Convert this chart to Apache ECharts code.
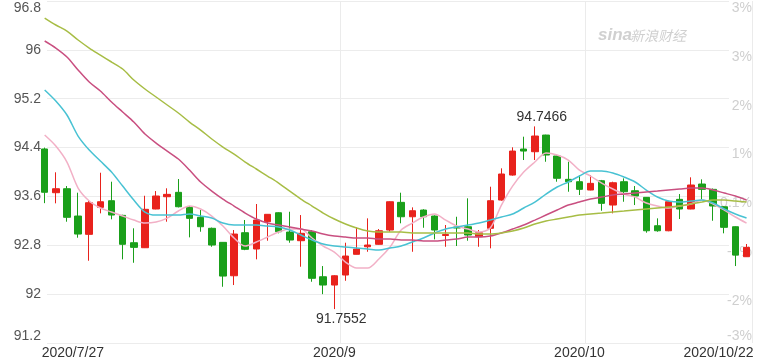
<!DOCTYPE html>
<html><head><meta charset="utf-8">
<script src="https://cdn.jsdelivr.net/npm/echarts@6/dist/echarts.min.js"></script>
<style>html,body{margin:0;padding:0;background:#fff}#c{width:760px;height:360px}</style>
</head><body><div id="c"></div>
<script>
const dates = ['2020/7/27','2020/7/28','2020/7/29','2020/7/30','2020/7/31','2020/8/3','2020/8/4','2020/8/5','2020/8/6','2020/8/7','2020/8/10','2020/8/11','2020/8/12','2020/8/13','2020/8/14','2020/8/17','2020/8/18','2020/8/19','2020/8/20','2020/8/21','2020/8/24','2020/8/25','2020/8/26','2020/8/27','2020/8/28','2020/8/31','2020/9/1','2020/9/2','2020/9/3','2020/9/4','2020/9/7','2020/9/8','2020/9/9','2020/9/10','2020/9/11','2020/9/14','2020/9/15','2020/9/16','2020/9/17','2020/9/18','2020/9/21','2020/9/22','2020/9/23','2020/9/24','2020/9/25','2020/9/28','2020/9/29','2020/9/30','2020/10/1','2020/10/2','2020/10/5','2020/10/6','2020/10/7','2020/10/8','2020/10/9','2020/10/12','2020/10/13','2020/10/14','2020/10/15','2020/10/16','2020/10/19','2020/10/20','2020/10/21','2020/10/22'];

const openP  = [94.377,93.661,93.726,93.279,92.979,93.421,93.530,93.290,92.842,92.760,93.394,93.595,93.667,93.421,93.258,93.078,92.848,92.301,93.006,92.739,93.186,93.333,93.017,92.875,93.022,92.285,92.149,92.313,92.652,92.776,92.816,93.050,93.503,93.267,93.377,93.279,92.960,93.099,93.104,92.940,93.078,93.541,93.950,94.376,94.332,94.605,94.262,93.880,93.841,93.705,93.857,93.459,93.841,93.693,93.585,93.120,93.038,93.552,93.394,93.803,93.716,93.431,93.104,92.613];
const closeP = [93.668,93.726,93.258,92.984,93.497,93.513,93.295,92.816,92.766,93.389,93.607,93.634,93.431,93.241,93.104,92.804,92.296,92.984,92.734,93.214,93.307,93.022,92.886,92.996,92.259,92.149,92.301,92.624,92.739,92.804,93.038,93.513,93.267,93.366,93.267,93.050,92.976,93.083,92.968,93.006,93.530,93.967,94.343,94.343,94.589,94.278,93.897,93.841,93.716,93.814,93.487,93.824,93.677,93.607,93.038,93.038,93.513,93.394,93.787,93.716,93.443,93.094,92.640,92.766];
const lowP   = [93.490,93.487,93.186,92.924,92.547,93.323,93.225,92.570,92.514,92.755,93.390,93.186,93.420,92.930,93.022,92.776,92.121,92.149,92.720,92.570,92.875,92.996,92.842,92.449,92.203,92.000,91.7552,92.219,92.650,92.694,92.810,93.022,93.160,92.694,93.087,92.897,92.776,92.788,92.875,92.776,92.750,93.530,93.940,94.196,94.196,94.168,93.841,93.677,93.623,93.700,93.366,93.323,93.513,93.459,93.006,93.022,93.030,93.230,93.390,93.552,93.202,92.996,92.460,92.610];
const highP  = [94.400,93.995,93.770,93.661,93.525,93.988,93.841,93.300,93.078,93.611,93.688,93.733,93.885,93.443,93.377,93.090,92.850,93.050,93.214,93.476,93.310,93.340,93.349,93.295,93.050,92.460,92.310,92.842,93.094,93.241,93.066,93.520,93.661,93.421,93.390,93.290,93.132,93.267,93.569,93.050,93.759,94.060,94.404,94.578,94.7466,94.610,94.270,94.168,93.950,93.950,93.870,93.841,93.896,93.770,93.590,93.241,93.530,93.639,93.913,93.880,93.730,93.440,93.110,92.821];

const ma5  = [94.605,94.425,94.163,93.737,93.525,93.410,93.344,93.279,93.213,93.164,93.181,93.246,93.361,93.443,93.394,93.279,93.115,92.919,92.788,92.853,92.935,93.017,93.066,93.066,92.919,92.788,92.689,92.526,92.427,92.427,92.575,92.771,93.050,93.164,93.263,93.312,93.213,93.115,93.066,93.017,93.082,93.459,93.770,93.999,94.163,94.311,94.278,94.196,94.032,93.934,93.819,93.721,93.639,93.590,93.492,93.443,93.410,93.443,93.476,93.541,93.476,93.377,93.263,93.164];
const ma10 = [95.342,95.162,94.933,94.589,94.360,94.180,93.999,93.770,93.541,93.344,93.295,93.295,93.295,93.312,93.279,93.246,93.164,93.132,93.132,93.132,93.115,93.099,93.050,92.968,92.886,92.820,92.788,92.771,92.755,92.739,92.722,92.755,92.788,92.853,92.919,93.001,93.066,93.099,93.132,93.164,93.213,93.263,93.312,93.410,93.508,93.639,93.754,93.836,93.934,94.016,94.016,93.983,93.918,93.836,93.705,93.590,93.525,93.508,93.525,93.541,93.492,93.394,93.312,93.246];
const ma20 = [96.145,96.030,95.883,95.670,95.473,95.326,95.146,94.982,94.818,94.622,94.474,94.343,94.212,94.032,93.836,93.688,93.557,93.443,93.328,93.230,93.164,93.132,93.099,93.066,93.033,92.984,92.951,92.935,92.919,92.919,92.902,92.902,92.886,92.886,92.870,92.870,92.886,92.902,92.935,92.935,92.951,93.001,93.066,93.132,93.213,93.295,93.377,93.459,93.508,93.557,93.590,93.623,93.639,93.656,93.672,93.688,93.705,93.721,93.737,93.737,93.705,93.656,93.606,93.541];
const ma30 = [96.521,96.407,96.308,96.161,96.030,95.915,95.801,95.686,95.506,95.359,95.228,95.097,94.966,94.818,94.687,94.540,94.409,94.294,94.163,94.049,93.934,93.819,93.688,93.557,93.443,93.328,93.230,93.148,93.082,93.033,93.017,93.017,93.017,93.001,93.001,93.001,93.001,93.001,93.001,92.984,92.984,93.001,93.033,93.082,93.148,93.197,93.230,93.263,93.295,93.312,93.328,93.345,93.361,93.378,93.394,93.410,93.426,93.443,93.476,93.508,93.541,93.541,93.525,93.508];

const yTicks = [91.2, 92, 92.8, 93.6, 94.4, 95.2, 96, 96.8];
const yPctLabels = ['-3%','-2%','-1%','0.1%','1%','2%','3%','3%'];
const xTickIndex = [0, 26, 48, 63];
const xTickText = ['2020/7/27','2020/9','2020/10','2020/10/22'];
const vLineIndex = [26, 48];

const FONT = 'Arial, "Liberation Sans", sans-serif';
const candleData = dates.map((d, i) => [openP[i], closeP[i], lowP[i], highP[i]]);

const chart = echarts.init(document.getElementById('c'), null, {renderer: 'canvas'});
const maLine = (name, data, color) => ({
  name, type: 'line', data, xAxisIndex: 1, yAxisIndex: 2,
  showSymbol: false, symbol: 'none', smooth: 0.3,
  lineStyle: {width: 1.5, color}, itemStyle: {color}, z: 3, silent: true
});

chart.setOption({
  animation: false,
  backgroundColor: '#fff',
  textStyle: {fontFamily: FONT},
  grid: [
    {left: 47, right: 31, top: 1, bottom: 17},
    {left: 39.1, right: 7.9, top: 1, bottom: 17}
  ],
  xAxis: [
    {gridIndex: 0, type: 'value', min: 0, max: 1, show: false},
    {gridIndex: 1, type: 'category', data: dates, boundaryGap: true,
     axisLine: {show: false}, axisTick: {show: false},
     axisLabel: {
       show: true, fontSize: 14, color: '#333', fontFamily: FONT, margin: 3,
       interval: (i) => xTickIndex.indexOf(i) >= 0,
       formatter: (v, i) => {
         const k = xTickIndex.indexOf(i);
         if (k < 0) return '';
         if (k === 0) return '{f|' + xTickText[k] + '}';
         if (k === xTickIndex.length - 1) return '{l|' + xTickText[k] + '}';
         return xTickText[k];
       },
       rich: {
         f: {fontSize: 14, color: '#333', fontFamily: FONT, padding: [0, 0, 0, -3]},
         l: {fontSize: 14, color: '#333', fontFamily: FONT, padding: [0, -7, 0, 0]}
       },
       alignMinLabel: 'left', alignMaxLabel: 'right'
     },
     splitLine: {show: true, interval: (i) => vLineIndex.indexOf(i - 1) >= 0,
       lineStyle: {color: '#ebebeb', width: 1}}
    }
  ],
  yAxis: [
    {gridIndex: 0, type: 'value', min: 91.2, max: 96.8, interval: 0.8, position: 'left',
     axisLine: {show: false}, axisTick: {show: false},
     splitLine: {show: true, lineStyle: {color: '#ececec', width: 1}},
     axisLabel: {fontSize: 14, color: '#555', fontFamily: FONT, margin: 6,
       verticalAlignMaxLabel: 'top', verticalAlignMinLabel: 'bottom',
       formatter: (v) => { const k = yTicks.findIndex(t => Math.abs(t - v) < 1e-6); return k >= 0 ? String(yTicks[k]) : ''; }}
    },
    {gridIndex: 0, type: 'value', min: 91.2, max: 96.8, interval: 0.8, position: 'right',
     axisLine: {show: false}, axisTick: {show: false}, splitLine: {show: false},
     axisLabel: {fontSize: 14, color: '#cfcfcf', fontFamily: FONT, margin: 23, align: 'right',
       verticalAlign: 'top', verticalAlignMaxLabel: 'top', verticalAlignMinLabel: 'bottom',
       formatter: (v) => { const k = yTicks.findIndex(t => Math.abs(t - v) < 1e-6); return k >= 0 ? yPctLabels[k] : ''; }}
    },
    {gridIndex: 1, type: 'value', min: 91.2, max: 96.8, show: false, splitLine: {show: false}}
  ],
  graphic: [
    {type: 'text', left: 598, top: 27, z: 0, silent: true,
     style: {text: 'sina', fill: '#d0d0d0', font: 'italic bold 17px ' + FONT}},
    {type: 'text', left: 630, top: 29, z: 0, silent: true,
     style: {text: '新浪财经', fill: '#d0d0d0', font: 'italic 14px "Noto Sans CJK SC", sans-serif'}}
  ],
  series: [
    {name: 'K', type: 'candlestick', data: candleData, xAxisIndex: 1, yAxisIndex: 2,
     barWidth: 7, z: 2,
     itemStyle: {color: '#e8221c', color0: '#1a9f1a', borderColor: '#e8221c', borderColor0: '#1a9f1a', borderWidth: 1},
     markPoint: {
       symbol: 'circle', symbolSize: 2, itemStyle: {color: 'rgba(0,0,0,0)'},
       label: {show: true, color: '#333', fontSize: 14, fontFamily: FONT, formatter: (p) => String(p.value)},
       data: [
         {type: 'max', valueDim: 'highest', label: {position: 'top', distance: 1, offset: [7, 0]}},
         {type: 'min', valueDim: 'lowest', label: {position: 'bottom', distance: 2, offset: [7, 0]}}
       ]
     }
    },
    maLine('MA5', ma5, '#f2b0c6'),
    maLine('MA10', ma10, '#48c2d3'),
    maLine('MA20', ma20, '#c94f80'),
    maLine('MA30', ma30, '#a7bd45')
  ]
});
</script>
</body></html>
